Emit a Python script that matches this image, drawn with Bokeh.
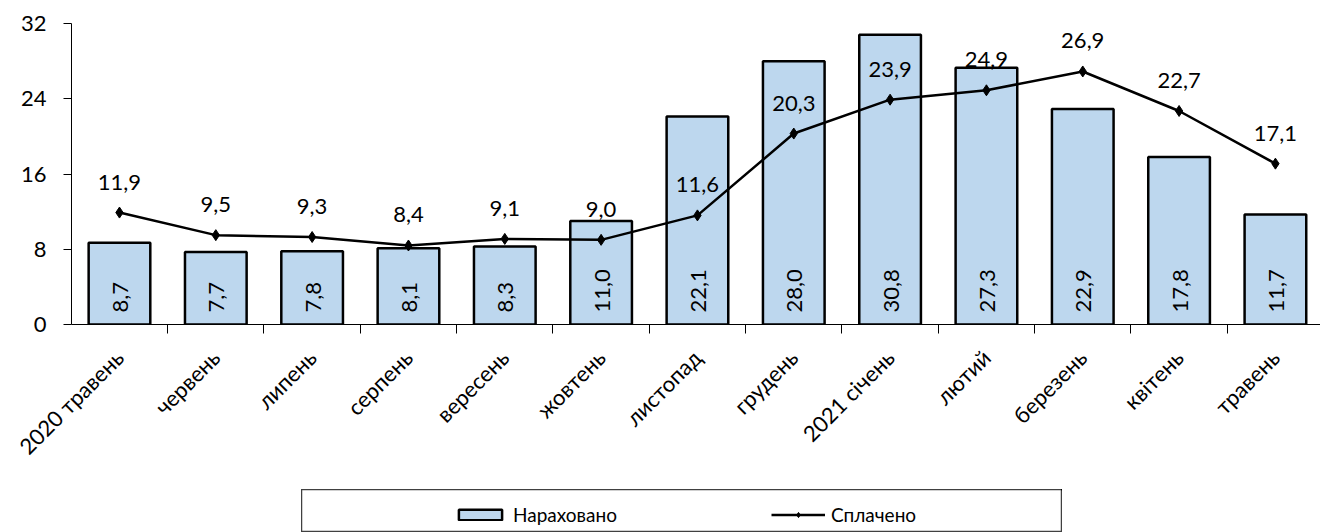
import math
from bokeh.plotting import figure
from bokeh.models import (Range1d, FixedTicker, LabelSet, ColumnDataSource,
                          Legend, LegendItem, Spacer)
from bokeh.layouts import column, row
from bokeh.core.properties import value
from bokeh.embed import file_html
from bokeh.resources import INLINE

months = ["2020 травень", "червень", "липень", "серпень", "вересень", "жовтень",
          "листопад", "грудень", "2021 січень", "лютий", "березень", "квітень", "травень"]
accrued = [8.7, 7.7, 7.8, 8.1, 8.3, 11.0, 22.1, 28.0, 30.8, 27.3, 22.9, 17.8, 11.7]
paid = [11.9, 9.5, 9.3, 8.4, 9.1, 9.0, 11.6, 20.3, 23.9, 24.9, 26.9, 22.7, 17.1]
y_ticks = [0, 8, 16, 24, 32]
series_names = ["Нараховано", "Сплачено"]

FONT = "Lato"
BAR_FILL = "#BDD7EE"

def fmt(v):
    return f"{v:.1f}".replace(".", ",")

idx = list(range(len(months)))
src = ColumnDataSource(dict(
    x=idx, accrued=accrued, paid=paid, zero=[0] * len(idx),
    accrued_t=[fmt(v) for v in accrued], paid_t=[fmt(v) for v in paid]))

p = figure(width=1320, height=489, x_range=Range1d(-0.498, 12.468),
           y_range=Range1d(0, 32), toolbar_location=None, output_backend="svg",
           min_border_left=71, min_border_top=23, min_border_bottom=165,
           min_border_right=0)
p.outline_line_color = None
p.grid.visible = False
p.background_fill_color = "white"
p.border_fill_color = "white"

p.vbar(x="x", top="accrued", width=0.64, source=src, fill_color=BAR_FILL,
       line_color="black", line_width=2.5)
p.line(x="x", y="paid", source=src, line_color="black", line_width=2.5)
p.scatter(x="x", y="paid", source=src, marker="diamond", size=11,
          fill_color="black", line_color="black")

p.add_layout(LabelSet(x="x", y="zero", text="accrued_t", source=src,
                      angle=math.pi / 2, text_align="left", text_baseline="middle",
                      y_offset=12, x_offset=1, text_font=value(FONT),
                      text_font_size="22px", text_color="black"))
p.add_layout(LabelSet(x="x", y="paid", text="paid_t", source=src,
                      text_align="center", text_baseline="bottom", y_offset=23,
                      text_font=value(FONT), text_font_size="22px",
                      text_color="black"))

# y axis
ya = p.yaxis[0]
ya.ticker = FixedTicker(ticks=y_ticks)
ya.major_tick_out = 8
ya.major_tick_in = 0
ya.minor_tick_out = 0
ya.minor_tick_in = 0
ya.major_label_standoff = 17
ya.major_label_text_font = FONT
ya.major_label_text_font_size = "22px"
ya.major_label_text_color = "black"
ya.axis_line_color = "black"
ya.major_tick_line_color = "black"

# x axis
xa = p.xaxis[0]
xa.ticker = FixedTicker(ticks=idx, minor_ticks=[i - 0.5 for i in idx] + [len(idx) - 0.5])
xa.major_label_overrides = {i: m for i, m in zip(idx, months)}
xa.major_tick_out = 0
xa.major_tick_in = 0
xa.minor_tick_out = 9
xa.minor_tick_in = 0
xa.minor_tick_line_color = "black"
xa.axis_line_color = "black"
xa.major_label_orientation = math.pi / 4
xa.major_label_standoff = 20
xa.major_label_text_font = FONT
xa.major_label_text_font_size = "22px"
xa.major_label_text_color = "black"

# legend box (renderers sit outside the visible range; only their legend glyphs show)
lg = figure(width=761, height=43, x_range=Range1d(-100, -99), y_range=Range1d(-100, -99),
            toolbar_location=None, output_backend="svg", min_border=0)
lg.axis.visible = False
lg.grid.visible = False
lg.outline_line_color = "#404040"
lg.outline_line_width = 1.5
r_bar = lg.vbar(x=idx, top=accrued, width=0.64, fill_color=BAR_FILL, line_color="black",
                line_width=2.5)
r_line = lg.line(x=idx, y=paid, line_color="black", line_width=2.5)
r_pt = lg.scatter(x=idx, y=paid, marker="diamond", size=11, fill_color="black",
                  line_color="black")
legend = Legend(items=[LegendItem(label=series_names[0], renderers=[r_bar]),
                       LegendItem(label=series_names[1], renderers=[r_line, r_pt])],
                location=(152, 6), orientation="horizontal",
                border_line_color=None, background_fill_alpha=0,
                glyph_width=54, glyph_height=13, label_standoff=6, spacing=154,
                padding=0, margin=0, label_text_font=FONT,
                label_text_font_size="19px", label_text_color="black")
lg.add_layout(legend)

layout = column(p, row(Spacer(width=301, height=43), lg))

open("out.html", "w").write(file_html(layout, INLINE))
